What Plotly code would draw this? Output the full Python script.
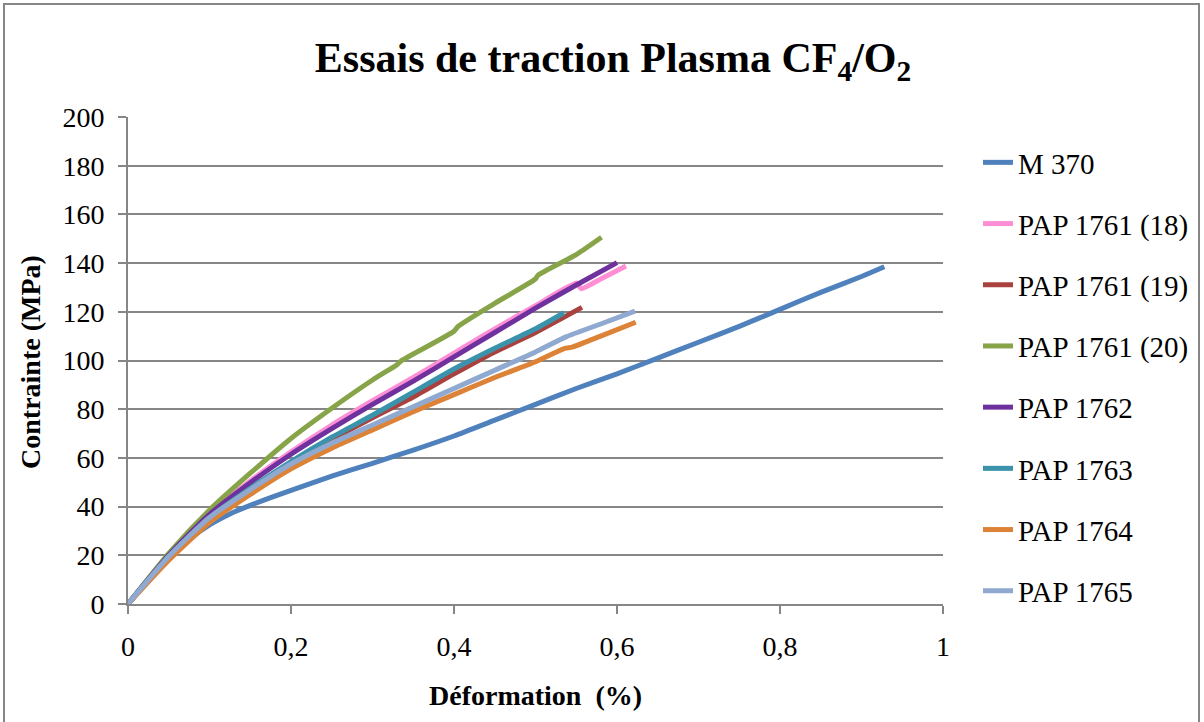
import plotly.graph_objects as go

# ---- data ----
series_names = ["M 370", "PAP 1761 (18)", "PAP 1761 (19)", "PAP 1761 (20)",
                "PAP 1762", "PAP 1763", "PAP 1764", "PAP 1765"]

m370_x = [0, 0.025, 0.05, 0.075, 0.1, 0.125, 0.15, 0.175, 0.2, 0.25, 0.3, 0.35, 0.4, 0.45, 0.5, 0.55, 0.6, 0.65, 0.7, 0.75, 0.8, 0.85, 0.9, 0.928]
m370_y = [0, 10, 19, 26.5, 32.5, 37, 40.5, 43.7, 46.7, 52.5, 57.8, 63.2, 69, 75.5, 82, 88.5, 94.5, 101, 107.5, 114, 121, 128, 134.5, 138.5]

p18_x = [0, 0.05, 0.1, 0.15, 0.2, 0.25, 0.3, 0.35, 0.4, 0.45, 0.5, 0.551, 0.556, 0.58, 0.611]
p18_y = [0, 20, 37, 50.5, 62.5, 73.5, 83.5, 93, 103, 113, 122.5, 131.8, 129.5, 133.5, 138.8]

p19_x = [0, 0.05, 0.1, 0.15, 0.2, 0.25, 0.3, 0.35, 0.4, 0.45, 0.5, 0.557]
p19_y = [0, 19, 35, 47, 58, 67.5, 76.5, 85, 94.5, 103.5, 111.5, 121.8]

p20_x = [0, 0.05, 0.1, 0.15, 0.2, 0.25, 0.3, 0.33, 0.335, 0.4, 0.405, 0.45, 0.5, 0.503, 0.55, 0.581]
p20_y = [0, 20.8, 38.6, 53.7, 68, 80.4, 92, 98.3, 99.8, 112, 114, 123.5, 133.5, 135, 143.5, 150.6]

p1762_x = [0, 0.05, 0.1, 0.15, 0.2, 0.25, 0.3, 0.35, 0.4, 0.45, 0.5, 0.55, 0.6]
p1762_y = [0, 20, 36.8, 49.8, 61.5, 72, 82, 91.5, 101.5, 111.5, 121.5, 131, 140.2]

p1763_x = [0, 0.05, 0.1, 0.15, 0.2, 0.25, 0.3, 0.35, 0.4, 0.45, 0.5, 0.535]
p1763_y = [0, 19.5, 35.5, 47.5, 58.5, 68.5, 77.5, 87, 96.5, 105, 113, 119.6]

p1764_x = [0, 0.05, 0.1, 0.15, 0.2, 0.25, 0.3, 0.35, 0.4, 0.45, 0.5, 0.536, 0.545, 0.58, 0.623]
p1764_y = [0, 18, 33.5, 45, 55.5, 64, 71.5, 79, 86, 93, 99.5, 105, 105.5, 110, 115.7]

p1765_x = [0, 0.05, 0.1, 0.15, 0.2, 0.25, 0.3, 0.35, 0.4, 0.45, 0.5, 0.538, 0.58, 0.622]
p1765_y = [0, 19.5, 35.5, 47, 57.5, 66, 73.5, 81, 88.5, 96, 103.5, 109.8, 115, 120.3]

series_x = [m370_x, p18_x, p19_x, p20_x, p1762_x, p1763_x, p1764_x, p1765_x]
series_y = [m370_y, p18_y, p19_y, p20_y, p1762_y, p1763_y, p1764_y, p1765_y]
colors = ["#4F81BD", "#FF8FD5", "#A9423F", "#87A449", "#6F319E", "#3B93AB", "#DD8337", "#8FA9D0"]

x_ticks = [0, 0.2, 0.4, 0.6, 0.8, 1]
x_tick_labels = ["0", "0,2", "0,4", "0,6", "0,8", "1"]
y_ticks = list(range(0, 201, 20))

FONT = "Liberation Serif, Times New Roman, serif"

fig = go.Figure()
for i, (name, xs, ys, c) in enumerate(zip(series_names, series_x, series_y, colors)):
    fig.add_trace(go.Scatter(x=xs, y=ys, mode="lines", name=name,
                             line=dict(color=c, width=5, shape="spline", smoothing=0.6),
                             legendgroup=f"g{i}"))

W, H = 1204, 722
L, T, RIGHT, BOTTOM = 128, 117, 943, 604
R, B = W - RIGHT, H - BOTTOM
pw, ph = RIGHT - L, BOTTOM - T

def px2paper_x(p):
    return (p - L) / pw

def px2paper_y(p):
    return (BOTTOM - p) / ph

fig.update_layout(
    width=W, height=H,
    margin=dict(l=L, r=R, t=T, b=B, autoexpand=False),
    paper_bgcolor="white", plot_bgcolor="white",
    font=dict(family=FONT, size=28, color="black"),
    title=dict(text="<b>Essais de traction Plasma CF<sub>4</sub>/O<sub>2</sub></b>",
               x=613 / W, xanchor="center", y=1 - 57 / H, yanchor="middle",
               font=dict(family=FONT, size=42, color="black")),
    xaxis=dict(range=[0, 1], tickvals=x_ticks, ticktext=x_tick_labels,
               showgrid=False, zeroline=False, showline=True, linecolor="#868686", linewidth=2,
               ticks="outside", ticklen=8, tickwidth=2, tickcolor="#868686",
               ticklabelstandoff=8, tickfont=dict(size=28)),
    yaxis=dict(range=[0, 200], tickvals=y_ticks,
               showgrid=True, gridcolor="#868686", gridwidth=2,
               zeroline=False, showline=True, linecolor="#868686", linewidth=2,
               ticks="outside", ticklen=8, tickwidth=2, tickcolor="#868686",
               ticklabelstandoff=8, tickfont=dict(size=28)),
    legend=dict(x=px2paper_x(978), xanchor="left", y=px2paper_y(137), yanchor="top",
                font=dict(family=FONT, size=29), tracegroupgap=20.5, maxheight=700,
                bgcolor="rgba(0,0,0,0)"),
    annotations=[
        dict(text="<b>Déformation  (%)</b>", xref="paper", yref="paper",
             x=0.5, y=px2paper_y(695), xanchor="center", yanchor="middle",
             showarrow=False, font=dict(family=FONT, size=28)),
        dict(text="<b>Contrainte (MPa)</b>", xref="paper", yref="paper",
             x=px2paper_x(31), y=0.497, xanchor="center", yanchor="middle",
             textangle=-90, showarrow=False, font=dict(family=FONT, size=28)),
    ],
    shapes=[dict(type="rect", xref="paper", yref="paper",
                 x0=px2paper_x(4), x1=px2paper_x(1199),
                 y0=px2paper_y(740), y1=px2paper_y(4),
                 line=dict(color="#868686", width=2), layer="below")],
)

fig.write_html("out.html", config={"displayModeBar": False},
               post_script="document.body.style.margin='0px';document.body.style.overflow='hidden';")
